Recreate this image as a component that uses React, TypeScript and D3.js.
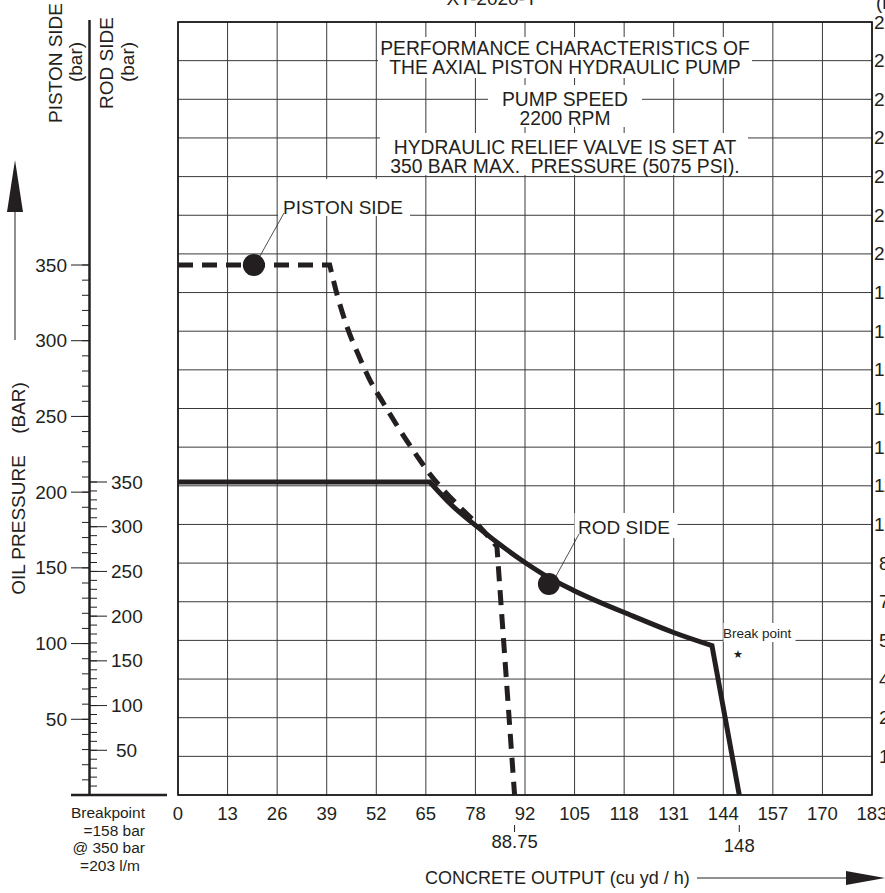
import React from 'react';
import * as d3 from 'd3';

type P = [number, number];

const X_MAX = 183;
const xTickLabels = ['0', '13', '26', '39', '52', '65', '78', '92', '105', '118', '131', '144', '157', '170', '183'];
const pistonTicks = [50, 100, 150, 200, 250, 300, 350];
const rodTicks = [50, 100, 150, 200, 250, 300, 350];
const rightLabels = ['14', '29', '43', '57', '71', '86', '100', '114', '129', '143', '157', '171', '186', '200', '214', '229', '243', '257', '271', '286'];
const GRID_ROWS = 20;

// Piston side (dashed) in piston-side bar
const pistonFlat: P[] = [[0, 350], [40, 350]];
const pistonCurve: P[] = [[40, 350], [42, 330], [44.6, 309], [47.5, 291], [50.6, 274], [54.1, 259], [58.5, 241], [63, 224], [66.4, 212], [70.5, 200], [74.4, 190], [79.6, 177], [84.1, 164]];
const pistonDrop: P[] = [[84.1, 164], [88.75, 0]];
const pistonMarker: P = [20, 350];

// Rod side (solid) in rod-side bar
const rodFlat: P[] = [[0, 350], [66.4, 350]];
const rodCurve: P[] = [[66.4, 350], [72.2, 324], [78.3, 302], [91.5, 260], [97.8, 243], [104.2, 229], [120, 200], [130.5, 182], [140.8, 167]];
const rodDrop: P[] = [[140.8, 167], [148, 0]];
const rodMarker: P = [97.8, 236];

const markers = [
  { value: 88.75, label: '88.75' },
  { value: 148, label: '148' },
];

const titleLines1 = ['PERFORMANCE CHARACTERISTICS OF', 'THE AXIAL PISTON HYDRAULIC PUMP'];
const titleLines2 = ['PUMP SPEED', '2200 RPM'];
const titleLines3 = ['HYDRAULIC RELIEF VALVE IS SET AT', '350 BAR MAX.\u00A0 PRESSURE (5075 PSI).'];
const breakNote = ['Breakpoint', '=158 bar', '@ 350 bar', '=203 l/m'];

const FONT = "'Liberation Sans', Arial, Helvetica, sans-serif";
const INK = '#231f20';

export default function App() {
  const x = d3.scaleLinear().domain([0, X_MAX]).range([178, 872]);
  const gy = d3.scaleLinear().domain([0, GRID_ROWS]).range([795, 22]);
  const yPiston = d3.scaleLinear().domain([0, 350]).range([795, 265]);
  const yRod = d3.scaleLinear().domain([0, 350]).range([795, 482]);

  const buildPath = (ys: d3.ScaleLinear<number, number>, flat: P[], curve: P[], drop: P[]) => {
    const lin = d3.line<P>().x(d => x(d[0])).y(d => ys(d[1]));
    const smooth = d3.line<P>().x(d => x(d[0])).y(d => ys(d[1])).curve(d3.curveMonotoneX);
    return (lin(flat) || '') + (smooth(curve) || '').replace(/^M/, 'L') + (lin(drop) || '').replace(/^M/, 'L');
  };

  const pistonPath = buildPath(yPiston, pistonFlat, pistonCurve, pistonDrop);
  const rodPath = buildPath(yRod, rodFlat, rodCurve, rodDrop);

  const xTicks = xTickLabels.map((l, i) => ({ l, v: (X_MAX / (xTickLabels.length - 1)) * i }));
  const rows = d3.range(0, GRID_ROWS + 1);

  const pistonMinor = d3.range(10, 351, 10);
  const rodMinor = d3.range(10, 351, 10);

  const textStyle = { fontFamily: FONT, fill: INK } as const;

  return (
    <svg width={885} height={893} style={{ position: 'absolute', left: 0, top: 0, background: '#fff' }}>
      <rect x={0} y={0} width={885} height={893} fill="#fff" />
      {/* clipped top title */}
      <text x={492} y={5} textAnchor="middle" fontSize={19} style={textStyle}>XY-2020-Y</text>
      <text x={876} y={9} fontSize={19} style={textStyle}>(l/min)</text>

      {/* grid */}
      <g stroke="#3a3a3a" strokeWidth={1}>
        {xTicks.map((t, i) => (
          <line key={'v' + i} x1={x(t.v)} x2={x(t.v)} y1={gy(0)} y2={gy(GRID_ROWS)} />
        ))}
        {rows.map(r => (
          <line key={'h' + r} x1={x(0)} x2={x(X_MAX)} y1={gy(r)} y2={gy(r)} />
        ))}
      </g>
      <rect x={x(0)} y={gy(GRID_ROWS)} width={x(X_MAX) - x(0)} height={gy(0) - gy(GRID_ROWS)} fill="none" stroke="#111" strokeWidth={1.6} />

      {/* right axis labels (clipped at page edge) */}
      {rightLabels.map((l, i) => (
        <text key={'r' + i} x={l.length === 2 ? 879 : 874} y={gy(i + 1) + 6.5} fontSize={19} style={textStyle}>{l}</text>
      ))}

      {/* white label boxes */}
      <g fill="#fff">
        <rect x={378} y={37} width={374} height={41} />
        <rect x={488} y={85} width={154} height={42} />
        <rect x={380} y={133} width={368} height={42} />
        <rect x={278} y={179} width={132} height={37} />
        <rect x={574.5} y={513} width={103} height={25} />
        <rect x={723.5} y={623} width={72} height={19} />
      </g>

      {/* title texts */}
      <g fontSize={19.3} textAnchor="middle" style={textStyle}>
        {titleLines1.map((t, i) => <text key={'a' + i} x={565} y={54.5 + i * 19.5}>{t}</text>)}
        {titleLines2.map((t, i) => <text key={'b' + i} x={565} y={105.5 + i * 19}>{t}</text>)}
        {titleLines3.map((t, i) => <text key={'c' + i} x={565} y={153.5 + i * 19}>{t}</text>)}
      </g>

      {/* curves */}
      <path d={rodPath} fill="none" stroke={INK} strokeWidth={5} strokeLinejoin="miter" />
      <path d={pistonPath} fill="none" stroke={INK} strokeWidth={5} strokeDasharray="15 9" />
      <circle cx={x(pistonMarker[0])} cy={yPiston(pistonMarker[1])} r={11} fill={INK} />
      <circle cx={x(rodMarker[0])} cy={yRod(rodMarker[1])} r={11} fill={INK} />

      {/* leaders and annotations */}
      <line x1={284} y1={213} x2={260} y2={256} stroke={INK} strokeWidth={0.8} />
      <line x1={579} y1={534} x2={555} y2={578} stroke={INK} strokeWidth={0.8} />
      <text x={283} y={213.5} fontSize={19} style={textStyle}>PISTON SIDE</text>
      <text x={578} y={533.5} fontSize={19} style={textStyle}>ROD SIDE</text>
      <text x={723} y={637.5} fontSize={13.5} style={textStyle}>Break point</text>
      <text x={738} y={658} fontSize={11} textAnchor="middle" style={textStyle}>★</text>

      {/* x axis labels */}
      {xTicks.map((t, i) => (
        <text key={'xl' + i} x={x(t.v)} y={819.5} fontSize={18.5} textAnchor="middle" style={textStyle}>{t.l}</text>
      ))}
      {markers.map((m, i) => (
        <g key={'m' + i}>
          <line x1={x(m.value)} x2={x(m.value)} y1={825} y2={832} stroke={INK} strokeWidth={1} />
          <text x={x(m.value)} y={848 + i * 4} fontSize={18.5} textAnchor="middle" style={textStyle}>{m.label}</text>
        </g>
      ))}
      <text x={425} y={884} fontSize={18} style={textStyle}>CONCRETE OUTPUT (cu yd / h)</text>
      <line x1={697} x2={850} y1={878} y2={878} stroke={INK} strokeWidth={1} />
      <path d="M846,871 L885,878 L846,885 Z" fill={INK} />

      {/* left axes */}
      <line x1={89.5} x2={89.5} y1={20} y2={795} stroke={INK} strokeWidth={2.5} />
      <line x1={71} x2={167} y1={795} y2={795} stroke={INK} strokeWidth={2.5} />
      {pistonMinor.map(v => (
        <line key={'pm' + v} x1={82} x2={89} y1={yPiston(v)} y2={yPiston(v)} stroke={INK} strokeWidth={1} />
      ))}
      {pistonTicks.map(v => (
        <g key={'pt' + v}>
          <line x1={71} x2={89} y1={yPiston(v)} y2={yPiston(v)} stroke={INK} strokeWidth={1} />
          <text x={67} y={yPiston(v) + 6.5} fontSize={19} textAnchor="end" style={textStyle}>{v}</text>
        </g>
      ))}
      {rodMinor.map(v => (
        <line key={'rm' + v} x1={90} x2={97} y1={yRod(v)} y2={yRod(v)} stroke={INK} strokeWidth={1} />
      ))}
      {rodTicks.map(v => (
        <g key={'rt' + v}>
          <line x1={90} x2={107} y1={yRod(v)} y2={yRod(v)} stroke={INK} strokeWidth={1} />
          <text x={v < 100 ? 116 : 111} y={yRod(v) + 6.5} fontSize={19} style={textStyle}>{v}</text>
        </g>
      ))}

      {/* rotated axis titles */}
      <text transform="translate(55,63) rotate(-90)" dy="0.35em" fontSize={19} textAnchor="middle" style={textStyle}>PISTON SIDE</text>
      <text transform="translate(75,62) rotate(-90)" dy="0.35em" fontSize={19} textAnchor="middle" style={textStyle}>(bar)</text>
      <text transform="translate(106,63) rotate(-90)" dy="0.35em" fontSize={19} textAnchor="middle" style={textStyle}>ROD SIDE</text>
      <text transform="translate(127,62) rotate(-90)" dy="0.35em" fontSize={19} textAnchor="middle" style={textStyle}>(bar)</text>
      <text transform="translate(18,525) rotate(-90)" dy="0.35em" fontSize={19} textAnchor="middle" style={textStyle}>OIL PRESSURE</text>
      <text transform="translate(18,408) rotate(-90)" dy="0.35em" fontSize={19} textAnchor="middle" style={textStyle}>(BAR)</text>
      <line x1={15} x2={15} y1={205} y2={340} stroke={INK} strokeWidth={1} />
      <path d="M15,160 L23,212 L7,212 Z" fill={INK} />

      {/* breakpoint note */}
      {breakNote.map((t, i) => (
        <text key={'bn' + i} x={i === 3 ? 140 : 145} y={818 + i * 17.7} fontSize={15.5} textAnchor="end" style={textStyle}>{t}</text>
      ))}
    </svg>
  );
}
